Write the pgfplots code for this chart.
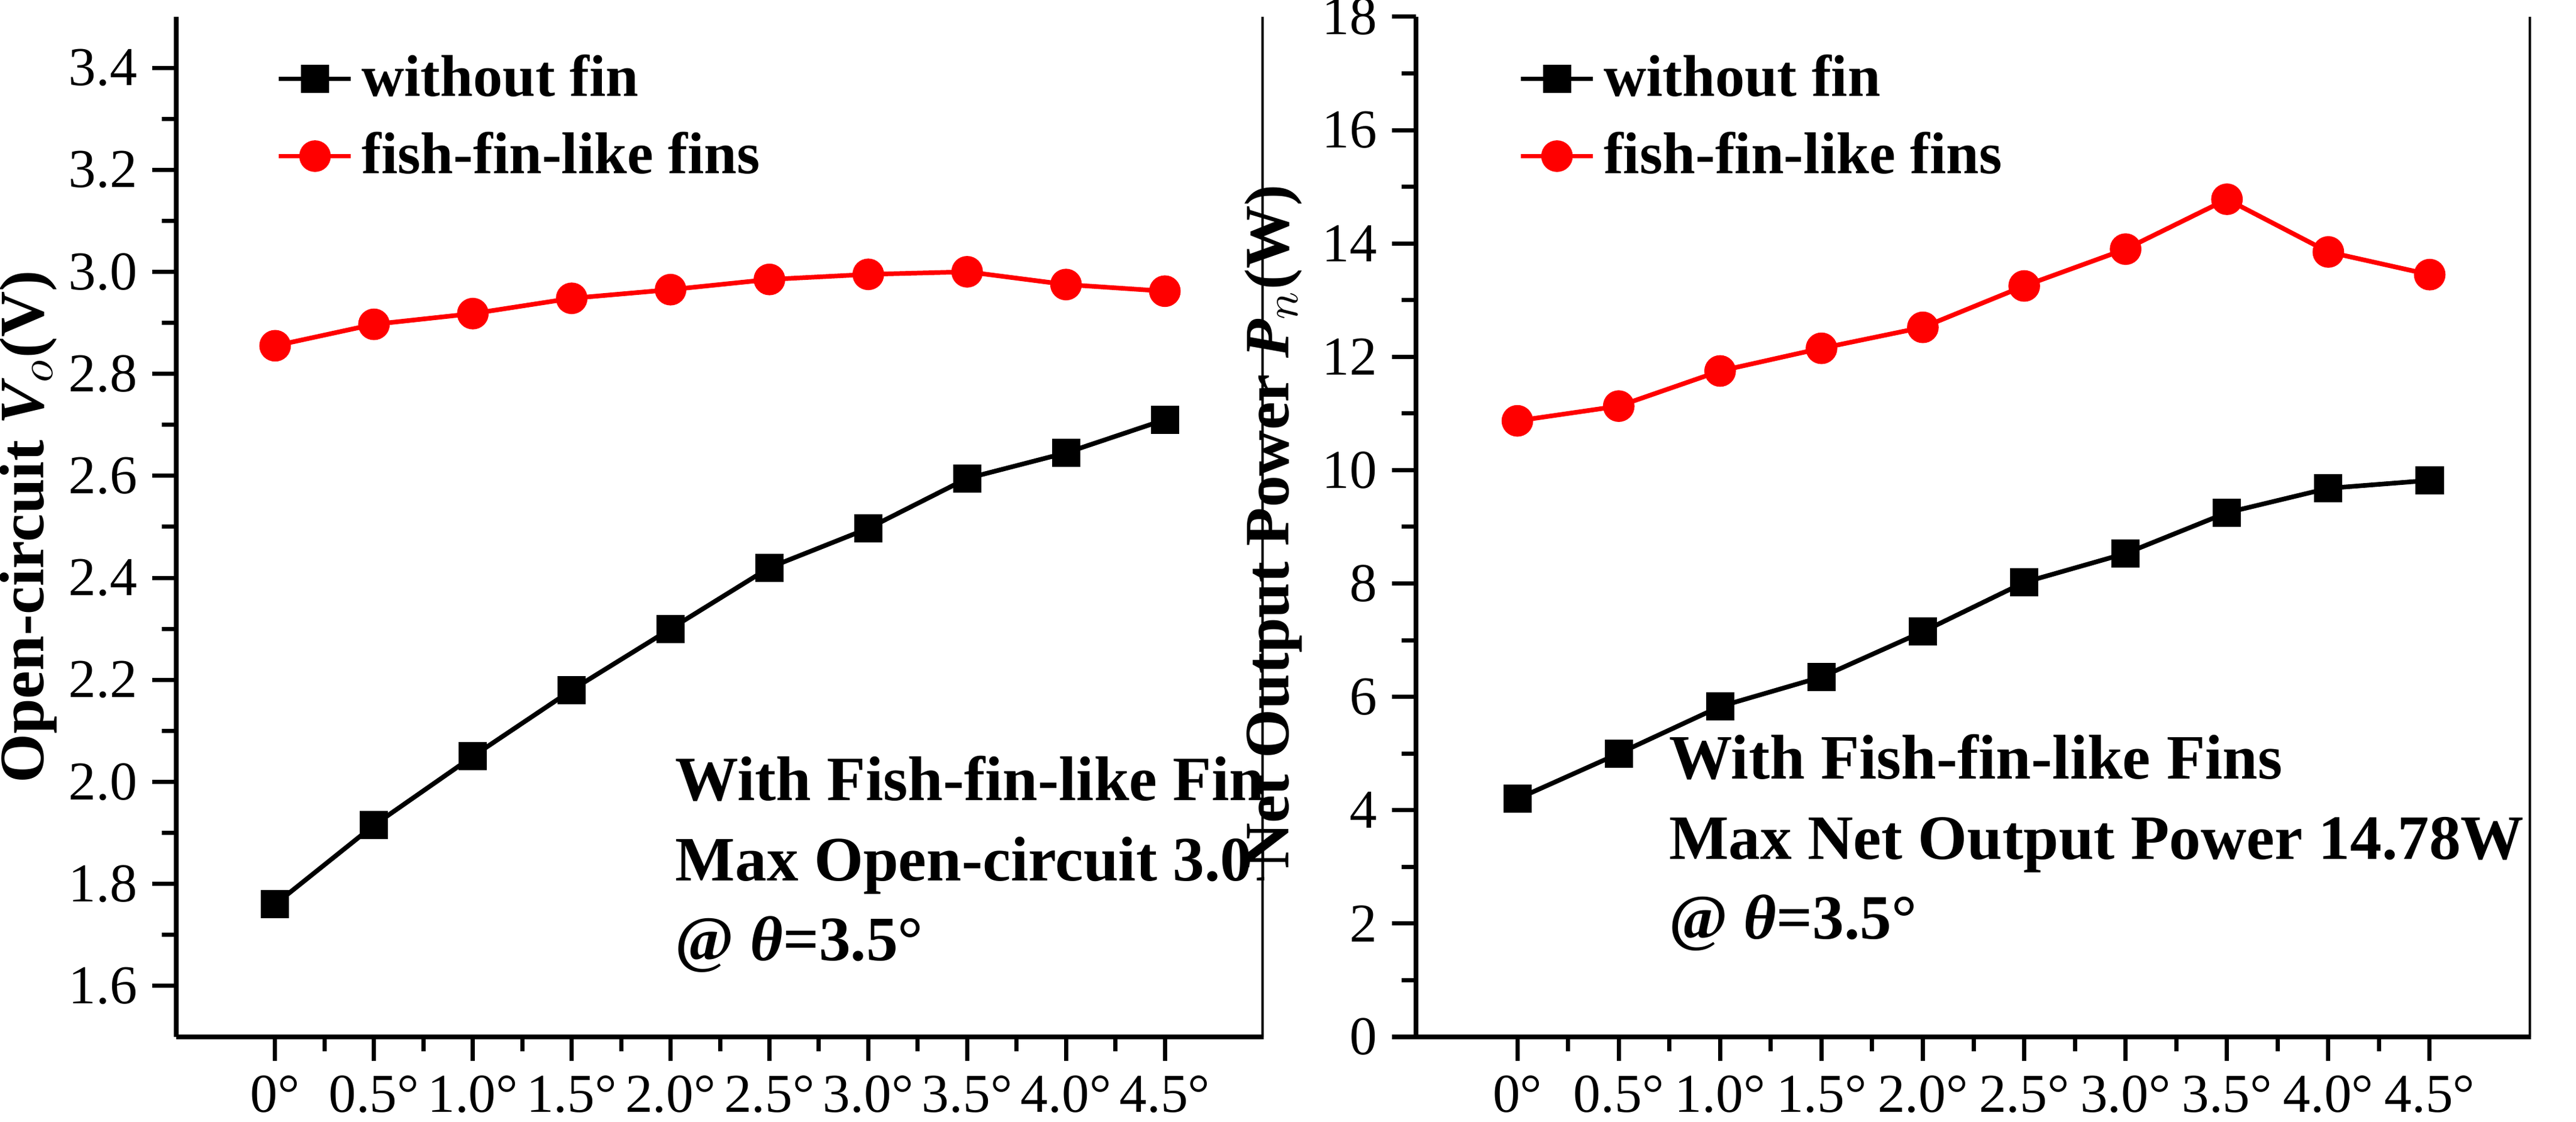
\documentclass[border=0pt]{standalone}
\usepackage{pgfplots}
\pgfplotsset{compat=1.18}
\usepackage{fontspec}
\setmainfont{Liberation Serif}
\begin{document}
\begin{tikzpicture}
\useasboundingbox (0,0) rectangle (21.485,9.36);
\pgfplotsset{every axis/.append style={
  scale only axis, width=9.07cm, height=8.51cm,
  axis x line=bottom, axis y line=left, axis line style={-, line width=1.2pt},
  tick align=outside, major tick length=0.2cm, minor tick length=0.12cm,
  tick style={line width=1pt, black},
  xmin=-1, xmax=10, xtick={0,...,9},
  xticklabels={0°,0.5°,1.0°,1.5°,2.0°,2.5°,3.0°,3.5°,4.0°,4.5°},
  minor x tick num=1,
  ticklabel style={font=\fontsize{13}{13}\selectfont},
  /pgf/number format/assume math mode=true,
  label style={font=\bfseries\fontsize{15}{15}\selectfont},
  xlabel={Contraction Angle \textit{θ}},
  legend style={draw=none, fill=none, font=\bfseries\fontsize{14}{14}\selectfont, at={(0.08,0.98)}, anchor=north west, row sep=3pt},
  legend cell align=left,
  every axis plot/.append style={line width=1.1pt},
}}
\begin{axis}[at={(1.47cm,0.71cm)}, ymin=1.5, ymax=3.5, ytick={1.6,1.8,...,3.41}, minor y tick num=1,
  yticklabel style={/pgf/number format/fixed,/pgf/number format/fixed zerofill,/pgf/number format/precision=1},
  ylabel={Open-circuit \textit{V$_o$}(V)}, ylabel shift=-4pt]
\addplot[black, mark=square*, mark size=2.8pt] coordinates {(0,1.76)(1,1.915)(2,2.05)(3,2.18)(4,2.30)(5,2.42)(6,2.497)(7,2.595)(8,2.645)(9,2.71)};
\addlegendentry{without fin}
\addplot[red, mark=*, mark size=3.2pt] coordinates {(0,2.855)(1,2.897)(2,2.918)(3,2.948)(4,2.965)(5,2.985)(6,2.995)(7,3.0)(8,2.975)(9,2.962)};
\addlegendentry{fish-fin-like fins}
\draw[line width=1.2pt] (rel axis cs:1,0) -- (rel axis cs:1,1);
\node[anchor=north west, align=left, font=\bfseries\fontsize{15}{19}\selectfont] at (axis cs:3.9,2.08) {With Fish-fin-like Fins\\Max Open-circuit 3.01V\\@ \textit{θ}=3.5°};
\node[font=\fontsize{14}{14}\selectfont] at ([yshift=-2.4cm]rel axis cs:0.5,0) {(\textbf{a})};
\end{axis}
\begin{axis}[at={(11.81cm,0.71cm)}, width=9.3cm, ymin=0, ymax=18, ytick={0,2,...,18}, minor y tick num=1,
  ylabel={Net Output Power \textit{P$_n$}(W)}, ylabel shift=-2pt]
\addplot[black, mark=square*, mark size=2.8pt] coordinates {(0,4.2)(1,5.0)(2,5.83)(3,6.35)(4,7.15)(5,8.02)(6,8.53)(7,9.25)(8,9.68)(9,9.82)};
\addlegendentry{without fin}
\addplot[red, mark=*, mark size=3.2pt] coordinates {(0,10.87)(1,11.13)(2,11.75)(3,12.15)(4,12.52)(5,13.25)(6,13.9)(7,14.78)(8,13.85)(9,13.45)};
\addlegendentry{fish-fin-like fins}
\draw[line width=1.2pt] (rel axis cs:1,0) -- (rel axis cs:1,1);
\node[anchor=north west, align=left, font=\bfseries\fontsize{15}{19}\selectfont] at (axis cs:1.35,5.6) {With Fish-fin-like Fins\\Max Net Output Power 14.78W\\@ \textit{θ}=3.5°};
\node[font=\fontsize{14}{14}\selectfont] at ([yshift=-2.4cm]rel axis cs:0.5,0) {(\textbf{b})};
\end{axis}
\end{tikzpicture}
\end{document}
